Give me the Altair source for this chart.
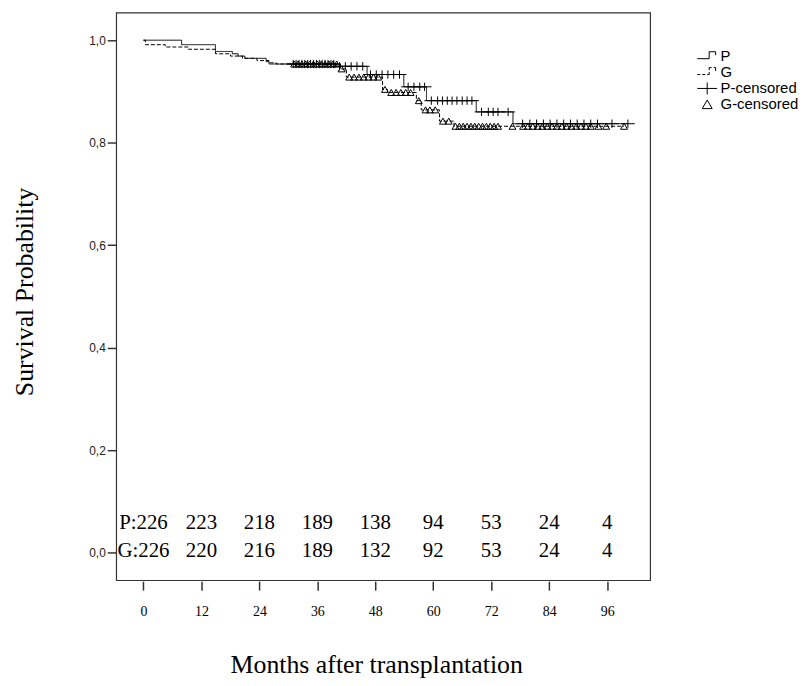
import altair as alt
import pandas as pd
import numpy as np

# Kaplan-Meier step curves (months, survival probability)
p_times = [0, 7.9, 14.9, 18.4, 19.6, 21.0, 25.4, 26.0, 40.0, 46.3, 53.9, 58.6, 68.9, 76.5, 100.3]
p_surv = [1.0, 0.9912, 0.978, 0.9735, 0.969, 0.9646, 0.958, 0.9535, 0.949, 0.933, 0.909, 0.882, 0.860, 0.837, 0.837]

g_times = [0, 0.4, 4.5, 9.3, 14.9, 18.0, 20.5, 23.5, 26.0, 27.5, 40.8, 42.0, 49.5, 50.5, 56.5, 57.5, 61.3, 64.3, 99.5]
g_surv = [1.0, 0.9912, 0.9867, 0.9823, 0.9735, 0.969, 0.9646, 0.9602, 0.9558, 0.9535, 0.944, 0.928, 0.904, 0.898, 0.882, 0.864, 0.842, 0.832, 0.832]

# censoring times
p_cens = [31.0, 31.6, 32.2, 32.8, 33.4, 34.0, 34.6, 35.2, 35.8, 36.4, 37.0, 37.6, 38.2, 38.8, 39.4,
          40.6, 41.8, 43.0, 44.2, 45.4, 47.0, 48.2, 49.4, 50.6, 51.8, 53.0, 54.8, 56.0, 57.2, 58.2,
          59.6, 60.9, 61.9, 62.9, 63.9, 64.9, 66.0, 67.0, 68.0, 70.0, 71.4, 72.4, 73.4, 75.5,
          78.5, 80.0, 81.4, 82.8, 84.2, 85.6, 87.0, 88.4, 89.8, 91.2, 92.6, 94.0, 97.0, 100.3]
g_cens = [31.2, 32.0, 32.8, 33.6, 34.4, 35.2, 36.0, 36.8, 37.6, 38.4, 39.2, 40.0, 41.0, 42.6, 43.6,
          44.6, 45.6, 46.6, 47.6, 48.6, 50.0, 51.3, 52.3, 53.3, 54.3, 55.3, 57.0, 58.4, 59.3, 60.4,
          62.0, 63.2, 64.6, 65.4, 66.2, 67.0, 67.8, 68.6, 69.4, 70.2, 71.0, 71.8, 72.6, 73.4, 76.4,
          78.6, 79.6, 80.6, 81.6, 82.6, 83.6, 84.6, 85.6, 86.6, 87.6, 88.6, 89.6, 90.6, 91.6, 92.6,
          94.2, 95.8, 99.5]

# number at risk
risk_times = [0, 12, 24, 36, 48, 60, 72, 84, 96]
p_risk = [226, 223, 218, 189, 138, 94, 53, 24, 4]
g_risk = [226, 220, 216, 189, 132, 92, 53, 24, 4]

legend_names = ["P", "G", "P-censored", "G-censored"]


def step_lookup(times, surv, ts):
    idx = np.searchsorted(np.array(times), np.array(ts), side="right") - 1
    return [surv[i] for i in idx]


curve_df = pd.concat([
    pd.DataFrame({"month": p_times, "surv": p_surv, "group": "P"}),
    pd.DataFrame({"month": g_times, "surv": g_surv, "group": "G"}),
])
cens_df = pd.concat([
    pd.DataFrame({"month": p_cens, "surv": step_lookup(p_times, p_surv, p_cens), "legend": "P-censored"}),
    pd.DataFrame({"month": g_cens, "surv": step_lookup(g_times, g_surv, g_cens), "legend": "G-censored"}),
])
risk_p_df = pd.DataFrame({"month": risk_times,
                          "label": ["P:" + str(v) if i == 0 else str(v) for i, v in enumerate(p_risk)]})
risk_g_df = pd.DataFrame({"month": risk_times,
                          "label": ["G:" + str(v) if i == 0 else str(v) for i, v in enumerate(g_risk)]})

xscale = alt.Scale(domain=[-5.65, 104.9], nice=False, zero=False)
yscale = alt.Scale(domain=[-0.054, 1.054], nice=False, zero=False)

xaxis = alt.Axis(values=risk_times, title="Months after transplantation", grid=False, domain=False,
                 tickSize=9, offset=1, tickColor="#333", tickWidth=1.5,
                 labelFont="Liberation Serif", labelFontSize=14, labelPadding=15, labelColor="black",
                 titleFont="Liberation Serif", titleFontSize=26, titleFontWeight="normal",
                 titleColor="black", titleX=262, titleY=92, titleBaseline="alphabetic")
yaxis = alt.Axis(values=[0, 0.2, 0.4, 0.6, 0.8, 1.0],
                 labelExpr="replace(format(datum.value, '.1f'), '.', ',')",
                 grid=False, domain=False, tickSize=9, tickColor="#333", tickWidth=1.5,
                 labelFont="Liberation Sans", labelFontSize=12, labelPadding=2, labelColor="#222",
                 title="Survival Probability", titleFont="Liberation Serif", titleFontSize=26,
                 titleFontWeight="normal", titleColor="black", titleX=-79, titleY=281)

lines = alt.Chart(curve_df).mark_line(interpolate="step-after", color="black", strokeWidth=1).encode(
    x=alt.X("month:Q", scale=xscale, axis=xaxis),
    y=alt.Y("surv:Q", scale=yscale, axis=yaxis),
    strokeDash=alt.StrokeDash("group:N", scale=alt.Scale(domain=["P", "G"], range=[[1, 0], [4, 2]]),
                              legend=None),
    detail="group:N",
)

shape_paths = [
    "M-2,0.6H0.4V-0.8H1.7V-0.1",
    "M-2,0.6H-1.4M-1,0.6H-0.4M0,0.6H0.4V0.1M0.4,-0.3V-0.8H0.9M1.3,-0.8H1.7V-0.1",
    "M-2,0H2M0,-1.2V1.2",
    "triangle-up",
]

points = alt.Chart(cens_df).mark_point(filled=False, color="black", strokeWidth=1, size=49, opacity=1).encode(
    x=alt.X("month:Q", scale=xscale),
    y=alt.Y("surv:Q", scale=yscale),
    shape=alt.Shape("legend:N", scale=alt.Scale(domain=legend_names, range=shape_paths),
                    legend=alt.Legend(title=None, orient="none", legendX=588, legendY=36,
                                      symbolSize=100, symbolStrokeColor="black",
                                      symbolFillColor="transparent", symbolStrokeWidth=1,
                                      labelFont="Liberation Sans", labelFontSize=15,
                                      labelColor="black", labelOffset=6, rowPadding=0)),
)

text_p = alt.Chart(risk_p_df).mark_text(font="Liberation Serif", fontSize=21, color="black",
                                        align="center", baseline="middle").encode(
    x=alt.X("month:Q", scale=xscale), y=alt.value(514), text="label:N")
text_g = alt.Chart(risk_g_df).mark_text(font="Liberation Serif", fontSize=21, color="black",
                                        align="center", baseline="middle").encode(
    x=alt.X("month:Q", scale=xscale), y=alt.value(543), text="label:N")

chart = alt.layer(lines, points, text_p, text_g).properties(
    width=538, height=572,
    autosize=alt.AutoSizeParams(type="none"),
    padding={"left": 109, "top": 2, "right": 150, "bottom": 100},
    background="white",
).configure_view(stroke="#333", strokeWidth=1.2)

chart.save("out.html", embed_options={"renderer": "svg", "actions": False})
